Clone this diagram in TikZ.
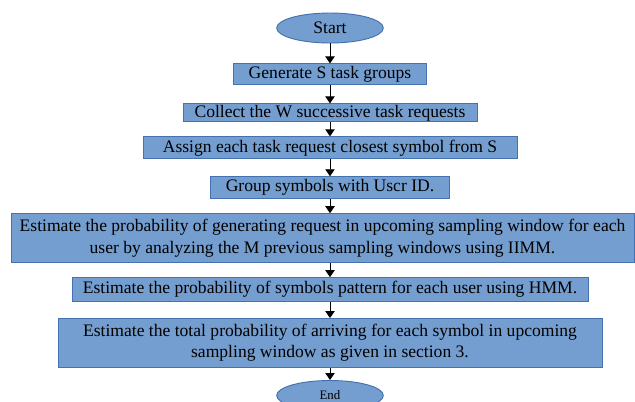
\documentclass[tikz,border=0pt]{standalone}
\usepackage{fontspec}
\setmainfont{Liberation Serif}
\usetikzlibrary{positioning, shapes.geometric, arrows.meta}
\definecolor{boxfill}{RGB}{116,158,207}
\definecolor{boxline}{RGB}{68,114,176}
\tikzset{stepbox/.style={rectangle, draw=boxline, fill=boxfill, line width=0.8pt, inner sep=0pt, align=center, font=\fontsize{15}{18}\selectfont},
  terminal/.style={ellipse, draw=boxline, fill=boxfill, line width=0.8pt, inner sep=0pt, minimum width=3.2cm, minimum height=0.9cm}}

\begin{document}
\begin{tikzpicture}[>={Triangle[width=8pt,length=6pt]}, node distance=0.45cm]
    \useasboundingbox (0,0) rectangle (19.05,-12.03);
    \node[terminal, font=\fontsize{15}{18}\selectfont] (start) at (9.9,-0.84) {Start};
    \node[stepbox, minimum width=5.79cm, minimum height=0.63cm, below=0.6cm of start] (generate) {Generate S task groups};
    \node[stepbox, minimum width=8.82cm, minimum height=0.54cm, below=0.54cm of generate] (collect) {Collect the W successive task requests};
    \node[stepbox, minimum width=11.22cm, minimum height=0.66cm, below=0.42cm of collect] (assign) {Assign each task request closest symbol from S};
    \node[stepbox, minimum width=7.17cm, minimum height=0.66cm, below=0.51cm of assign] (group) {Group symbols with Uscr ID.};
    \node[stepbox, minimum width=18.69cm, minimum height=1.47cm, below=0.42cm of group, xshift=-0.225cm] (window)
      {Estimate the probability of generating request in upcoming sampling window for each\\ user by analyzing the M previous sampling windows using IIMM.};
    \node[stepbox, minimum width=15.48cm, minimum height=0.72cm, below=0.42cm of window, xshift=0.225cm] (pattern) {Estimate the probability of symbols pattern for each user using HMM.};
    \node[stepbox, minimum width=16.32cm, minimum height=1.47cm, below=0.48cm of pattern] (total)
      {Estimate the total probability of arriving for each symbol in upcoming\\ sampling window as given in section 3.};
    \node[terminal, font=\fontsize{11}{13}\selectfont, below=0.36cm of total] (end) {End};

    \draw[->, line width=0.8pt] (start) -- (generate);
    \draw[->, line width=0.8pt] (generate) -- (collect);
    \draw[->, line width=0.8pt] (collect) -- (assign);
    \draw[->, line width=0.8pt] (assign) -- (group);
    \draw[->, line width=0.8pt] (group) -- (group |- window.north);
    \draw[->, line width=0.8pt] (pattern |- window.south) -- (pattern);
    \draw[->, line width=0.8pt] (pattern) -- (total);
    \draw[->, line width=0.8pt] (total) -- (end);
\end{tikzpicture}
\end{document}
